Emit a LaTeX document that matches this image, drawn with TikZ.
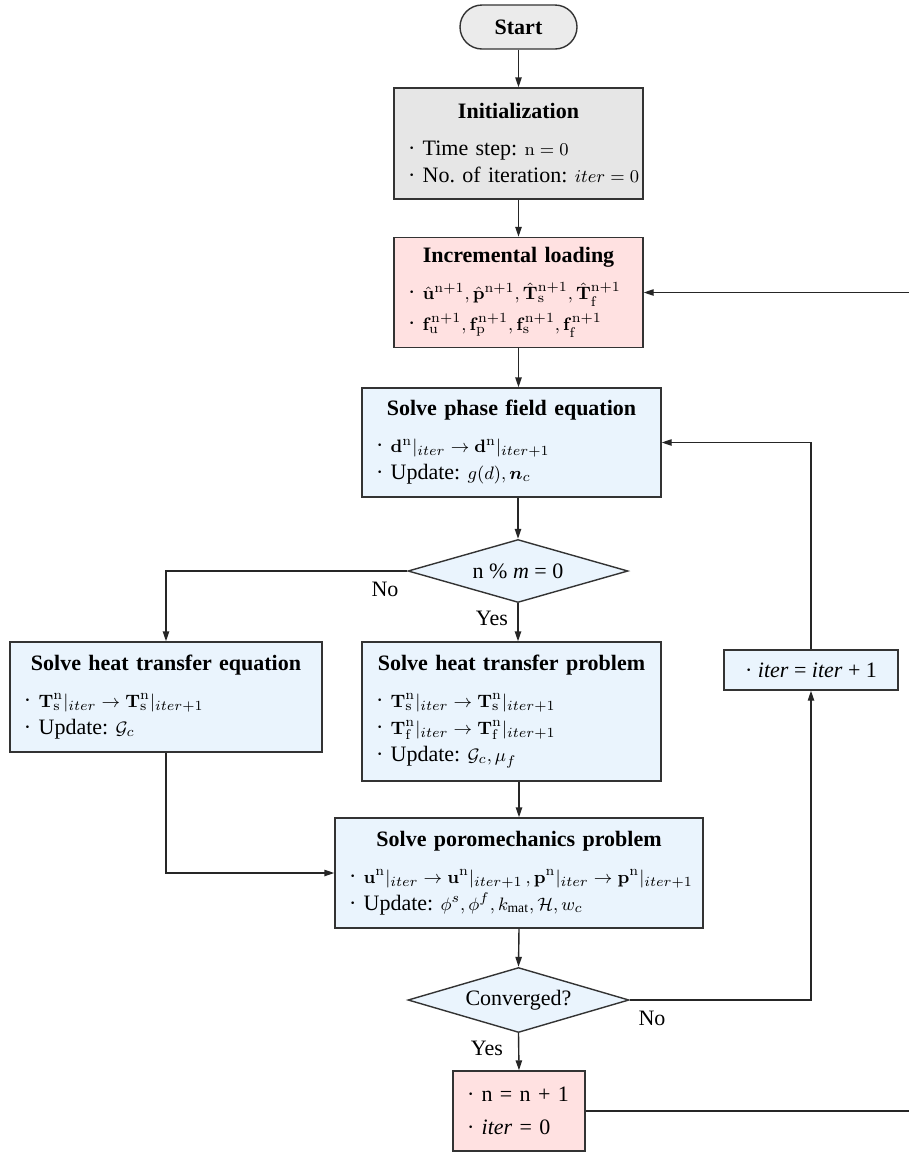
\documentclass[tikz,border=0pt]{standalone}
\usepackage{amsmath,amssymb}
\usepackage[no-math]{fontspec}
\setmainfont{Liberation Serif}
\usetikzlibrary{shapes.geometric,arrows.meta}

% math is set a little smaller than the text
\DeclareMathSizes{11}{9.4}{6.8}{5.2}

\definecolor{startgray}{HTML}{EBEBEB}
\definecolor{initgray}{HTML}{E6E6E6}
\definecolor{loadpink}{HTML}{FFE1E1}
\definecolor{solveblue}{HTML}{EAF4FD}

% centred bold heading of a box, and one bullet row
\newcommand{\hdr}[1]{\makebox[\linewidth]{\textbf{#1}}\\[5pt]}
\newcommand{\itm}[1]{\mbox{\textperiodcentered\ #1}}

\begin{document}
\frenchspacing
\begin{tikzpicture}[x=0.5pt,y=-0.5pt,
    font=\fontsize{11pt}{13.5pt}\selectfont,
    proc/.style={draw=black!80, line width=0.7pt, align=left, inner xsep=7pt, inner ysep=0pt},
    cond/.style={draw=black!80, line width=0.7pt, diamond, aspect=3.5, inner sep=0pt, fill=solveblue},
    arr/.style={draw=black!85, line width=0.7pt, -{Triangle[length=5pt,width=3.2pt]}}]
    \useasboundingbox (0,0) rectangle (909,1152);

    % Start and initialization
    \node[proc, align=center, rounded corners=11pt, fill=startgray, minimum width=58.5pt, minimum height=22pt] (start) at (518.5,27) {\textbf{Start}};
    \node[proc, fill=initgray, text width=110.5pt, minimum height=55.5pt] (init) at (518.5,143.5)
        {\hdr{Initialization}\itm{Time step: $\mathrm{n}=0$}\\\itm{No. of iteration: $iter=0$}};

    % Loading step
    \node[proc, fill=loadpink, text width=110.5pt, minimum height=55pt] (load) at (518.5,292.5)
        {\hdr{Incremental loading}\itm{$\hat{\mathbf{u}}^{\mathrm{n}+1}, \hat{\mathbf{p}}^{\mathrm{n}+1}, \hat{\mathbf{T}}_{\mathrm{s}}^{\mathrm{n}+1}, \hat{\mathbf{T}}_{\mathrm{f}}^{\mathrm{n}+1}$}\\[2pt]
         \itm{$\mathbf{f}_{\mathrm{u}}^{\mathrm{n}+1}, \mathbf{f}_{\mathrm{p}}^{\mathrm{n}+1}, \mathbf{f}_{\mathrm{s}}^{\mathrm{n}+1}, \mathbf{f}_{\mathrm{f}}^{\mathrm{n}+1}$}};

    % Phase field
    \node[proc, fill=solveblue, text width=135.5pt, minimum height=54.5pt] (phase) at (511.5,442.5)
        {\hdr{Solve phase field equation}\itm{$\mathbf{d}^{\mathrm{n}}|_{iter} \rightarrow \mathbf{d}^{\mathrm{n}}|_{iter+1}$}\\\itm{Update: $g(d), \boldsymbol{n}_c$}};
    \node[cond, minimum width=110pt, minimum height=31.5pt] (dia1) at (518,571) {n \% \textit{m} = 0};

    % Heat transfer, two variants
    \node[proc, fill=solveblue, text width=142pt, minimum height=55pt] (heatA) at (166,697)
        {\hdr{Solve heat transfer equation}\itm{$\mathbf{T}_{\mathrm{s}}^{\mathrm{n}}|_{iter} \rightarrow \mathbf{T}_{\mathrm{s}}^{\mathrm{n}}|_{iter+1}$}\\\itm{Update: $\mathcal{G}_c$}};
    \node[proc, fill=solveblue, text width=135.5pt, minimum height=69.5pt] (heatB) at (511.5,711.5)
        {\hdr{Solve heat transfer problem}\itm{$\mathbf{T}_{\mathrm{s}}^{\mathrm{n}}|_{iter} \rightarrow \mathbf{T}_{\mathrm{s}}^{\mathrm{n}}|_{iter+1}$}\\\itm{$\mathbf{T}_{\mathrm{f}}^{\mathrm{n}}|_{iter} \rightarrow \mathbf{T}_{\mathrm{f}}^{\mathrm{n}}|_{iter+1}$}\\\itm{Update: $\mathcal{G}_c, \mu_f$}};

    % Poromechanics and convergence check
    \node[proc, fill=solveblue, text width=170pt, minimum height=55pt] (poro) at (519,873)
        {\hdr{Solve poromechanics problem}\itm{$\mathbf{u}^{\mathrm{n}}|_{iter} \rightarrow \mathbf{u}^{\mathrm{n}}|_{iter+1}\,, \mathbf{p}^{\mathrm{n}}|_{iter} \rightarrow \mathbf{p}^{\mathrm{n}}|_{iter+1}$}\\\itm{Update: $\phi^s, \phi^f, k_{\text{mat}}, \mathcal{H}, w_c$}};
    \node[cond, minimum width=110.5pt, minimum height=32.5pt] (dia2) at (518.5,1000) {Converged?};

    \node[proc, align=center, fill=solveblue, minimum width=87pt, minimum height=20pt] (iterbox) at (811,670) {\textperiodcentered\ \textit{iter} = \textit{iter} + 1};
    \node[proc, fill=loadpink, text width=52pt, minimum height=40pt] (fin) at (519,1111) {\itm{n = n + 1}\\[3pt]\itm{\textit{iter} = 0}};

    % branch labels
    \node (noA) at (385,589) {No};
    \node (yesA) at (492,618) {Yes};
    \node (noB) at (652,1018) {No};
    \node (yesB) at (487,1048) {Yes};

    % main flow
    \draw[arr] (start) -- (init);
    \draw[arr] (init) -- (load);
    \draw[arr] (load.south) -- (load.south |- phase.north);
    \draw[arr] (dia1.north |- phase.south) -- (dia1.north);
    \draw[arr] (dia1.south) -- (dia1.south |- heatB.north);
    \draw[arr] (dia1.west) -| (heatA.north);
    \draw[arr] (poro.north |- heatB.south) -- (poro.north);
    \draw[arr] (heatA.south) |- (poro.west);
    \draw[arr] (poro.south) -- (dia2.north);
    \draw[arr] (dia2.south) -- (fin.north);

    % loops back
    \draw[arr] (dia2.east) -| (iterbox.south);
    \draw[arr] (iterbox.north) |- (phase.east);
    \coordinate (loopR) at (916,1111);
    \draw[arr] (fin.east) -- (loopR) |- (load.east);
\end{tikzpicture}
\end{document}
